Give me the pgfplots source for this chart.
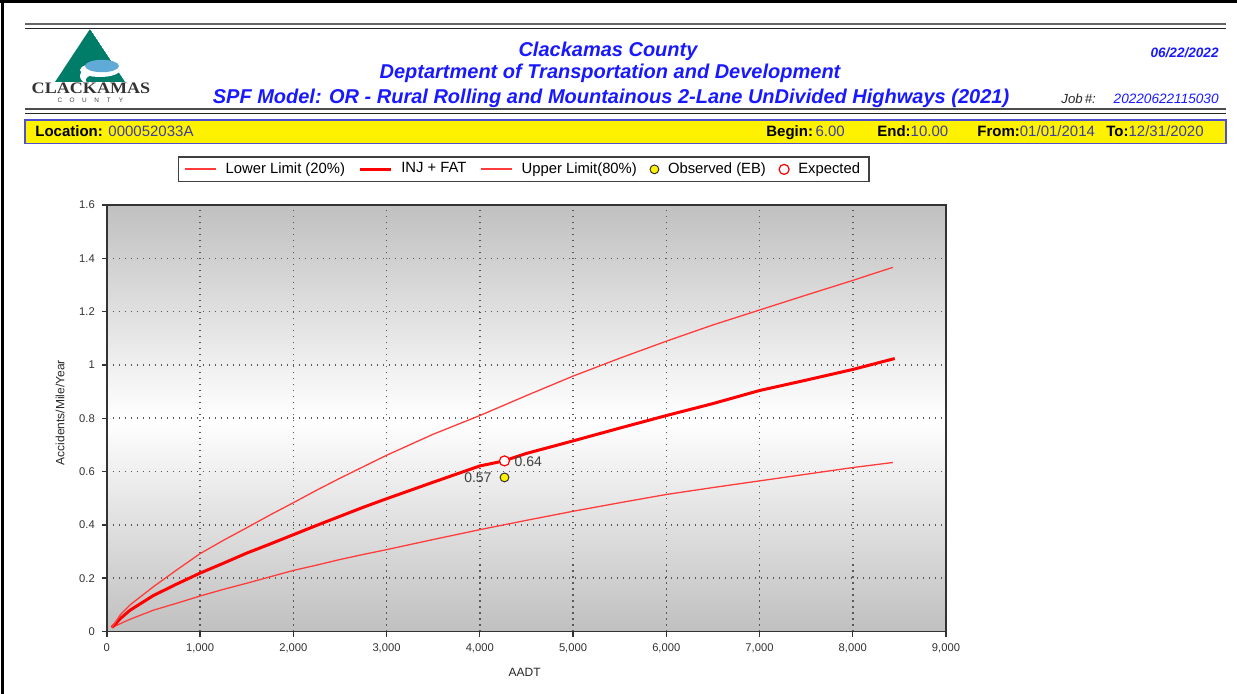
\documentclass[border=0pt]{standalone}
\usepackage{fontspec}
\setmainfont{Liberation Sans}
\newfontfamily\seriffont{Liberation Serif}
\usepackage{pgfplots}
\pgfplotsset{compat=1.18}
\definecolor{titleblue}{RGB}{25,25,255}
\definecolor{valblue}{RGB}{60,60,165}
\definecolor{logogreen}{RGB}{0,125,105}
\definecolor{logoblue}{RGB}{95,170,215}
\definecolor{barborder}{RGB}{80,80,200}
\definecolor{plotgray}{RGB}{192,192,192}
\definecolor{thinred}{RGB}{255,60,60}

\begin{document}
\begin{tikzpicture}
\begin{scope}[x=0.5pt,y=-0.5pt]
\path[use as bounding box] (0,0) rectangle (1237,694);
% page frame
\draw[black, line width=1.4pt] (0,1.5) -- (1237,1.5);
\draw[black, line width=1.4pt] (2.5,0) -- (2.5,694);
% header double lines
\draw[black!60, line width=0.8pt] (25,24) -- (1226,24);
\draw[black!85, line width=0.5pt] (25,29) -- (1226,29);
\draw[black!70, line width=0.7pt] (25,109) -- (1226,109);
\draw[black!85, line width=0.5pt] (25,114) -- (1226,114);
% yellow bar
\draw[barborder, line width=0.6pt, fill=yellow] (25,120) rectangle (1226,143.5);
\begin{scope}[every node/.style={anchor=base west, inner sep=0pt, font=\fontsize{7.5}{9}\selectfont}]
\node at (35,137) {\textbf{Location:} \textcolor{valblue}{000052033A}};
\node at (766,137) {\textbf{Begin:}\,\textcolor{valblue}{6.00}};
\node at (877,137) {\textbf{End:}\textcolor{valblue}{10.00}};
\node at (977,137) {\textbf{From:}\textcolor{valblue}{01/01/2014}};
\node at (1106,137) {\textbf{To:}\textcolor{valblue}{12/31/2020}};
\end{scope}
% titles
\begin{scope}[every node/.style={anchor=base, inner sep=0pt, text=titleblue, font=\fontsize{10}{12}\selectfont\bfseries\itshape}]
\node at (608,56.5) {Clackamas County};
\node at (610,78.3) {Deptartment of Transportation and Development};
\node at (611,103.3) {SPF Model: OR - Rural Rolling and Mountainous 2-Lane UnDivided Highways (2021)};
\end{scope}
\node[anchor=base east, inner sep=0pt, text=titleblue, font=\fontsize{6.8}{8}\selectfont\bfseries\itshape] at (1219,57.3) {06/22/2022};
\node[anchor=base west, inner sep=0pt, text=black!85, font=\fontsize{6.6}{8}\selectfont\itshape] at (1061,103.3) {Job\,\#:};
\node[anchor=base east, inner sep=0pt, text=titleblue, font=\fontsize{6.8}{8}\selectfont\itshape] at (1219,103.3) {20220622115030};
% logo
\begin{scope}
\clip (90,29) -- (55,82) -- (125,82) -- cycle;
\fill[logogreen] (90,29) -- (55,82) -- (125,82) -- cycle;
\fill[white] (110,76) ellipse [x radius=15pt, y radius=6.5pt];
\fill[logogreen] (112,80) ellipse [x radius=13pt, y radius=4pt];
\end{scope}
\fill[white] (100,70) ellipse [x radius=10pt, y radius=3.5pt];
\fill[logoblue] (102,66) ellipse [x radius=8.5pt, y radius=3.1pt];
\node[anchor=base, inner sep=0pt, text=black!80, font=\seriffont\bfseries\fontsize{8}{9}\selectfont, xscale=1.13] at (91,94) {CLACKAMAS};
\foreach \c [count=\i from 0] in {C,O,U,N,T,Y}
  \node[inner sep=0pt, text=black!75, font=\fontsize{3.2}{4}\selectfont] at ({60+12.2*\i},100) {\c};
\end{scope}

\begin{axis}[
  at={(53.4pt,-315.75pt)}, anchor=south west,
  scale only axis, width=419.6pt, height=213.25pt,
  xmin=0, xmax=9000, ymin=0, ymax=1.6,
  xtick={0,1000,2000,3000,4000,5000,6000,7000,8000,9000},
  ytick={0,0.2,0.4,0.6,0.8,1,1.2,1.4,1.6},
  axis background/.style={top color=plotgray, bottom color=plotgray, middle color=white},
  axis line style={black!80, line width=0.9pt},
  tick style={black!80, line width=0.7pt},
  major tick length=2.5pt,
  tick align=outside, tick pos=left,
  grid=major,
  major grid style={black!65, line width=0.75pt, dash pattern=on 0.7pt off 2.3pt},
  ticklabel style={font=\fontsize{5.6}{6}\selectfont, text=black!80},
  /pgf/number format/assume math mode=true,
  /pgf/number format/1000 sep={,},
  xlabel={AADT}, ylabel={Accidents/Mile/Year},
  label style={font=\fontsize{6}{7}\selectfont, text=black!85},
  xlabel style={at={(axis description cs:0.498,-0.095)}, anchor=center},
  ylabel style={at={(axis description cs:-0.0558,0.513)}, anchor=center},
  legend columns=5,
  legend cell align=left,
  legend image code/.code={\draw[mark repeat=2,mark phase=2,#1] plot coordinates {(0pt,0pt) (7.75pt,0pt) (15.5pt,0pt)};},
  legend style={at={(axis description cs:0.497,1.0835)}, anchor=center,
    draw=black!75, line width=0.9pt, fill=white,
    font=\fontsize{7.4}{8}\selectfont, inner xsep=2.6pt, inner ysep=0.6pt,
    /tikz/every odd column/.append style={column sep=2.6pt},
    /tikz/every even column/.append style={column sep=4.6pt}},
]
\addplot[thinred, draw=thinred, line width=0.65pt,
  legend image code/.code={\draw[thinred, line width=0.9pt] (0pt,0pt) -- (15.5pt,0pt);}] coordinates {
(54,0.015) (250,0.046) (500,0.080) (750,0.106) (1000,0.133) (1250,0.158) (1500,0.181)
(1750,0.205) (2000,0.229) (2250,0.249) (2500,0.270) (2750,0.289) (3000,0.307)
(3500,0.345) (4000,0.382) (4500,0.417) (5000,0.451) (5500,0.483) (6000,0.514)
(6500,0.540) (7000,0.565) (7500,0.590) (8000,0.615) (8430,0.634)};
\addlegendentry{Lower Limit (20\%)}
\addplot[red, draw=red, line width=1.5pt] coordinates {
(54,0.015) (150,0.05) (250,0.080) (500,0.135) (750,0.178) (1000,0.219) (1250,0.256)
(1500,0.294) (1750,0.328) (2000,0.363) (2250,0.398) (2500,0.432) (2750,0.466)
(3000,0.498) (3500,0.560) (4000,0.621) (4260,0.640) (4500,0.668) (5000,0.715)
(5500,0.763) (6000,0.810) (6500,0.855) (7000,0.904) (7500,0.943) (8000,0.983) (8450,1.024)};
\addlegendentry{INJ + FAT}
\addplot[thinred, draw=thinred, line width=0.65pt,
  legend image code/.code={\draw[thinred, line width=0.9pt] (0pt,0pt) -- (15.5pt,0pt);}] coordinates {
(54,0.015) (150,0.065) (250,0.100) (500,0.168) (750,0.231) (1000,0.292) (1250,0.342)
(1500,0.389) (1750,0.437) (2000,0.483) (2250,0.530) (2500,0.575) (2750,0.618)
(3000,0.661) (3500,0.740) (4000,0.810) (4500,0.885) (5000,0.958) (5500,1.025)
(6000,1.089) (6500,1.150) (7000,1.206) (7500,1.262) (8000,1.317) (8200,1.340) (8430,1.366)};
\addlegendentry{Upper Limit(80\%)}
\addplot[only marks, mark=*, mark size=2.2pt, mark options={fill=yellow, draw=black!80, line width=0.5pt}] coordinates {(4265,0.578)};
\addlegendentry{Observed (EB)}
\addplot[only marks, mark=*, mark size=2.5pt, mark options={fill=white, draw=red, line width=0.6pt}] coordinates {(4265,0.64)};
\addlegendentry{Expected}
\node[anchor=west, inner sep=0pt, text=black!75, font=\fontsize{7}{8}\selectfont] at (axis cs:4370,0.637) {0.64};
\node[anchor=east, inner sep=0pt, text=black!75, font=\fontsize{7}{8}\selectfont] at (axis cs:4130,0.578) {0.57};
\end{axis}
\end{tikzpicture}
\end{document}
